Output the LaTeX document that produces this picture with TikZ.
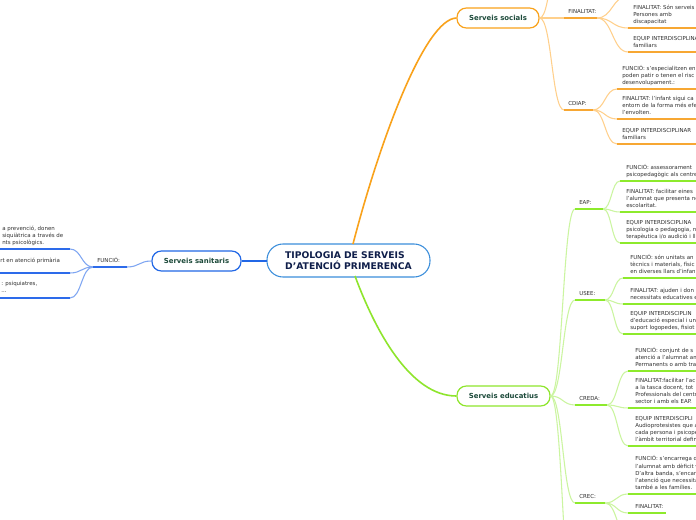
\documentclass[tikz,border=0pt]{standalone}
\usepackage{fontspec}
\setmainfont{DejaVu Sans}
\usetikzlibrary{calc}
\definecolor{orMain}{HTML}{F9A21B}
\definecolor{orLight}{HTML}{FFD08C}
\definecolor{orLine}{HTML}{F7A733}
\definecolor{grMain}{HTML}{8EE52C}
\definecolor{grLight}{HTML}{CBF5A0}
\definecolor{grLine}{HTML}{8DEA2C}
\definecolor{blMain}{HTML}{2167E6}
\definecolor{blLight}{HTML}{7FA6F2}
\definecolor{blLine}{HTML}{2D6BEA}
\definecolor{ctBorder}{HTML}{3B8EDB}
\definecolor{ctText}{HTML}{0F1E4A}
\definecolor{nodeText}{HTML}{1C4A3A}
\definecolor{leafText}{HTML}{303030}
\tikzset{
  mmcurve/.style={to path={let \p1=(\tikztostart), \p2=(\tikztotarget) in
     .. controls ({0.5*\x1+0.5*\x2},\y1) and ({0.5*\x1+0.5*\x2},\y2) .. (\tikztotarget)}},
  leaf/.style={anchor=south west, inner sep=0pt, align=left, text depth=0pt,
     font=\fontsize{4.1}{5.4}\selectfont, text=leafText},
  lbl/.style={leaf},
  mainbox/.style={draw, rounded corners=7pt, fill=white, line width=0.9pt,
     minimum height=15pt, inner sep=0pt, text=nodeText,
     font=\fontsize{5.2}{6.2}\selectfont\bfseries},
  uline/.style={line width=1.6pt},
}
\begin{document}
\begin{tikzpicture}[x=0.75pt,y=-0.75pt]
\useasboundingbox (0,0) rectangle (696,520);
\clip (0,0) rectangle (696,520);
\fill[white] (0,0) rectangle (696,520);

% ---------- coordinates ----------
\coordinate (ctTop) at (353,244);
\coordinate (ctBot) at (355,276);
\coordinate (ctW) at (267,261);
% socials
\coordinate (sTop) at (564,-75);
\coordinate (sF) at (564,18);  \coordinate (sFe) at (597,18);
\coordinate (sC) at (564,110); \coordinate (sCe) at (593,110);
\coordinate (sF0) at (628,-4);
\coordinate (sF1) at (628,28);  \coordinate (sF1e) at (700,28);
\coordinate (sF2) at (628,52);  \coordinate (sF2e) at (700,52);
\coordinate (sC1) at (617,89);  \coordinate (sC1e) at (700,89);
\coordinate (sC2) at (617,119); \coordinate (sC2e) at (700,119);
\coordinate (sC3) at (617,144); \coordinate (sC3e) at (700,144);
% educatius
\coordinate (eA) at (575,209); \coordinate (eAe) at (603,209);
\coordinate (eU) at (575,300); \coordinate (eUe) at (605,300);
\coordinate (eD) at (575,405); \coordinate (eDe) at (607,405);
\coordinate (eC) at (575,503); \coordinate (eCe) at (605,503);
\coordinate (eOff) at (575,620);
\coordinate (eA1) at (620,181); \coordinate (eA1e) at (700,181);
\coordinate (eA2) at (620,212); \coordinate (eA2e) at (700,212);
\coordinate (eA3) at (620,243); \coordinate (eA3e) at (700,243);
\coordinate (eU1) at (623,278); \coordinate (eU1e) at (700,278);
\coordinate (eU2) at (623,304); \coordinate (eU2e) at (700,304);
\coordinate (eU3) at (623,334); \coordinate (eU3e) at (700,334);
\coordinate (eD1) at (628,371); \coordinate (eD1e) at (700,371);
\coordinate (eD2) at (628,408); \coordinate (eD2e) at (700,408);
\coordinate (eD3) at (628,446); \coordinate (eD3e) at (700,446);
\coordinate (eC1) at (628,494); \coordinate (eC1e) at (700,494);
\coordinate (eC2) at (628,513); \coordinate (eC2e) at (666,513);
\coordinate (eC3) at (630,540);
% sanitaris
\coordinate (hF) at (127,267); \coordinate (hFw) at (93,267);
\coordinate (h1) at (70,249); \coordinate (h1w) at (-5,249);
\coordinate (h2) at (70,273); \coordinate (h2w) at (-5,273);
\coordinate (h3) at (70,298); \coordinate (h3w) at (-5,298);

% ---------- boxes ----------
\node[mainbox, draw=orMain, minimum width=61.5pt] (soc) at (498,18) {Serveis socials};
\node[mainbox, draw=grMain, minimum width=69.75pt] (edu) at (503.5,396) {Serveis educatius};
\node[mainbox, draw=blMain, minimum width=66.75pt] (san) at (196.5,261) {Serveis sanitaris};
\node[draw=ctBorder, line width=0.8pt, rounded corners=12pt, minimum width=122.25pt,
      minimum height=24.75pt, inner sep=0pt, align=left, text=ctText,
      font=\fontsize{6.9}{8.6}\selectfont\bfseries] (ct) at (348.5,260.5)
      {TIPOLOGIA DE SERVEIS\\D'ATENCIÓ PRIMERENCA};

% ---------- main connectors ----------
\draw[orMain, line width=1.2pt] (ctTop) .. controls (380,140) and (425,19) .. (soc.west);
\draw[grMain, line width=1.2pt] (ctBot) .. controls (375,330) and (410,396) .. (edu.west);
\draw[blMain, line width=1pt] (ctW) -- (san.east);

% ---------- socials ----------
\begin{scope}[orLight, line width=0.8pt]
\draw (soc.east) to[mmcurve] (sTop);
\draw (soc.east) to[mmcurve] (sF);
\draw (soc.east) to[mmcurve] (sC);
\draw (sFe) to[mmcurve] (sF0);
\draw (sFe) to[mmcurve] (sF1);
\draw (sFe) to[mmcurve] (sF2);
\draw (sCe) to[mmcurve] (sC1);
\draw (sCe) to[mmcurve] (sC2);
\draw (sCe) to[mmcurve] (sC3);
\end{scope}
\begin{scope}[orLine, uline]
\draw (sF) -- (sFe); \draw (sC) -- (sCe);
\draw (sF1) -- (sF1e); \draw (sF2) -- (sF2e);
\draw (sC1) -- (sC1e); \draw (sC2) -- (sC2e); \draw (sC3) -- (sC3e);
\end{scope}
\node[lbl] (tsF) at (568,14) {FINALITAT:};
\node[lbl] (tsC) at (568,106) {CDIAP:};
\node[leaf] (tsF1) at (633,24) {FINALITAT: Són serveis\\Persones amb\\discapacitat};
\node[leaf] (tsF2) at (633,48) {EQUIP INTERDISCIPLINAR\\familiars};
\node[leaf] (tsC1) at (622,85) {FUNCIÓ: s'especialitzen en\\poden patir o tenen el risc\\desenvolupament.:};
\node[leaf] (tsC2) at (622,115) {FINALITAT: l'infant sigui ca\\entorn de la forma més efe\\l'envolten.};
\node[leaf] (tsC3) at (622,140) {EQUIP INTERDISCIPLINAR\\familiars};

% ---------- educatius ----------
\begin{scope}[grLight, line width=0.8pt]
\draw (edu.east) to[mmcurve] (eA);
\draw (edu.east) to[mmcurve] (eU);
\draw (edu.east) to[mmcurve] (eD);
\draw (edu.east) to[mmcurve] (eC);
\draw (edu.east) to[mmcurve] (eOff);
\draw (eAe) to[mmcurve] (eA1);
\draw (eAe) to[mmcurve] (eA2);
\draw (eAe) to[mmcurve] (eA3);
\draw (eUe) to[mmcurve] (eU1);
\draw (eUe) to[mmcurve] (eU2);
\draw (eUe) to[mmcurve] (eU3);
\draw (eDe) to[mmcurve] (eD1);
\draw (eDe) to[mmcurve] (eD2);
\draw (eDe) to[mmcurve] (eD3);
\draw (eCe) to[mmcurve] (eC1);
\draw (eCe) to[mmcurve] (eC2);
\draw (eCe) to[mmcurve] (eC3);
\end{scope}
\begin{scope}[grLine, uline]
\draw (eA) -- (eAe); \draw (eU) -- (eUe); \draw (eD) -- (eDe); \draw (eC) -- (eCe);
\draw (eA1) -- (eA1e); \draw (eA2) -- (eA2e); \draw (eA3) -- (eA3e);
\draw (eU1) -- (eU1e); \draw (eU2) -- (eU2e); \draw (eU3) -- (eU3e);
\draw (eD1) -- (eD1e); \draw (eD2) -- (eD2e); \draw (eD3) -- (eD3e);
\draw (eC1) -- (eC1e); \draw (eC2) -- (eC2e);
\end{scope}
\node[lbl] (teA) at (579,205) {EAP:};
\node[lbl] (teU) at (579,296) {USEE:};
\node[lbl] (teD) at (579,401) {CREDA:};
\node[lbl] (teC) at (579,499) {CREC:};
\node[leaf] (teA1) at (626,177) {FUNCIÓ: assessorament\\psicopedagògic als centres};
\node[leaf] (teA2) at (626,208) {FINALITAT: facilitar eines\\l'alumnat que presenta ne\\escolaritat.};
\node[leaf] (teA3) at (626,239) {EQUIP INTERDISCIPLINA\\psicologia o pedagogia, n\\terapèutica i/o audició i ll};
\node[leaf] (teU1) at (630,274) {FUNCIÓ: són unitats an\\tècnics i materials, físic\\en diverses llars d'infan};
\node[leaf] (teU2) at (630,300) {FINALITAT: ajuden i don\\necessitats educatives e};
\node[leaf] (teU3) at (630,330) {EQUIP INTERDISCIPLIN\\d'educació especial i un\\suport logopedes, fisiot};
\node[leaf] (teD1) at (635,367) {FUNCIÓ: conjunt de s\\atenció a l'alumnat am\\Permanents o amb tra};
\node[leaf] (teD2) at (635,404) {FINALITAT:facilitar l'ac\\a la tasca docent, tot\\Professionals del centr\\sector i amb els EAP.};
\node[leaf] (teD3) at (635,442) {EQUIP INTERDISCIPLI\\Audioprotesistes que a\\cada persona i psicope\\l'àmbit territorial defin};
\node[leaf] (teC1) at (635,490) {FUNCIÓ: s'encarrega de\\l'alumnat amb dèficit vi\\D'altra banda, s'encarre\\l'atenció que necessita l\\també a les famílies.};
\node[leaf] (teC2) at (635,509) {FINALITAT:};

% ---------- sanitaris ----------
\begin{scope}[blLight, line width=0.8pt]
\draw (san.west) to[mmcurve] (hF);
\draw (hFw) to[mmcurve] (h1);
\draw (hFw) to[mmcurve] (h2);
\draw (hFw) to[mmcurve] (h3);
\end{scope}
\begin{scope}[blLine, uline]
\draw (hF) -- (hFw);
\draw (h1) -- (h1w); \draw (h2) -- (h2w); \draw (h3) -- (h3w);
\end{scope}
\node[lbl] (thF) at (97,263) {FUNCIÓ:};
\node[leaf] (th1) at (2,245) {a prevenció, donen\\siquiàtrica a través de\\nts psicològics.};
\node[leaf] (th2) at (0,263) {rt en atenció primària};
\node[leaf] (th3) at (1,293) {: psiquiatres,\\...};
\end{tikzpicture}
\end{document}
